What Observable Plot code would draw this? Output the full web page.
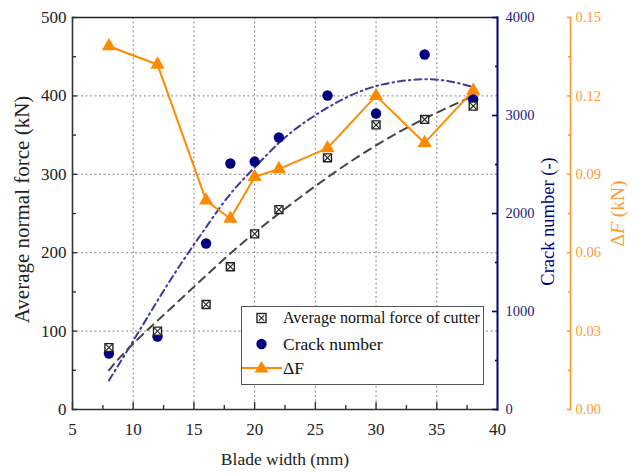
<!DOCTYPE html>
<html>
<head>
<meta charset="utf-8">
<script src="https://cdn.jsdelivr.net/npm/d3@7"></script>
<script src="https://cdn.jsdelivr.net/npm/@observablehq/plot@0.6"></script>
<style>
  html, body { margin: 0; padding: 0; background: #fff; }
  #wrap { position: relative; width: 635px; height: 475px; font-family: "Liberation Serif", "Times New Roman", serif; }
  #legend { position: absolute; left: 241px; top: 306px; width: 241px; height: 77px; border: 1.5px solid #555; background: #fff; }
  .row { position: absolute; left: 0; height: 24px; display: flex; align-items: center; }
  .row svg { width: 40px; height: 24px; }
  .row span { color: #111; white-space: nowrap; }
</style>
</head>
<body>
<div id="wrap"></div>
<script>
// ---- data ----
const blade = [8, 12, 16, 18, 20, 22, 26, 30, 34, 38];
const avgForce = [79, 100, 134, 182, 224, 255, 321, 363, 370, 387];
const crackNumber = [571, 745, 1694, 2510, 2530, 2776, 3204, 3020, 3622, 3163];
const deltaF = [0.139, 0.132, 0.080, 0.073, 0.089, 0.092, 0.100, 0.120, 0.102, 0.122];
const forceFitX = [8, 10, 14, 18, 22, 26, 30, 34, 38];
const forceFitY = [50, 84, 142, 199, 250, 296, 337, 371, 400];
const crackFitX = [8, 10, 12, 14, 16, 18, 20, 22, 24, 26, 28, 30, 32, 34, 36, 38];
const crackFitY = [296, 700, 1110, 1500, 1860, 2200, 2470, 2720, 2920, 3080, 3210, 3300, 3350, 3370, 3350, 3290];
const xTicks = [5, 10, 15, 20, 25, 30, 35, 40];
const xMinor = [7.5, 12.5, 17.5, 22.5, 27.5, 32.5, 37.5];
const forceTicks = [0, 100, 200, 300, 400, 500];
const forceMinor = [50, 150, 250, 350, 450];
const crackTicks = [0, 1000, 2000, 3000, 4000];
const crackMinor = [500, 1500, 2500, 3500];
const dfTicks = [0, 0.03, 0.06, 0.09, 0.12, 0.15];
const dfMinor = [0.015, 0.045, 0.075, 0.105, 0.135];
const legendLabels = ["Average normal force of cutter", "Crack number", "ΔF"];

// ---- helpers ----
const crackMax = 4000, dfMax = 0.15, forceMax = 500;
const crackToY = c => c * forceMax / crackMax;
const dfToY = f => f * forceMax / dfMax;
const navy = "#000080";
const fitBlue = "#3b3b9e";
const orange = "#ff8a00";
const orangeAxis = "#ff9a33";

const pts = blade.map((x, i) => ({x, force: avgForce[i], crack: crackNumber[i], df: deltaF[i]}));
const forceFit = forceFitX.map((x, i) => ({x, y: forceFitY[i]}));
const crackFit = crackFitX.map((x, i) => ({x, y: crackFitY[i]}));

const gridStyle = {stroke: "#888", strokeOpacity: 1, strokeWidth: 1, strokeDasharray: "2,2.5"};
const orangeDx = 73;

const chart = Plot.plot({
  width: 635,
  height: 475,
  marginLeft: 72,
  marginRight: 138,
  marginTop: 17,
  marginBottom: 66,
  x: {domain: [5, 40]},
  y: {domain: [0, 500]},
  style: {fontFamily: "'Liberation Serif', 'Times New Roman', serif", background: "#fff", color: "#222", overflow: "visible"},
  marks: [
    Plot.gridX(xTicks.slice(1, -1), gridStyle),
    Plot.gridY(forceTicks.slice(1, -1), gridStyle),
    // fits
    Plot.line(forceFit, {x: "x", y: "y", stroke: "#444", strokeWidth: 2, strokeDasharray: "8,6", curve: "natural"}),
    Plot.line(crackFit, {x: "x", y: d => crackToY(d.y), stroke: fitBlue, strokeWidth: 2, strokeDasharray: "7,4,1.5,4", curve: "natural"}),
    // delta F
    Plot.line(pts, {x: "x", y: d => dfToY(d.df), stroke: orange, strokeWidth: 2}),
    Plot.dot(pts, {x: "x", y: d => dfToY(d.df), symbol: "triangle", fill: orange, r: 5.3}),
    // crack number
    Plot.dot(pts, {x: "x", y: d => crackToY(d.crack), fill: navy, r: 5.2}),
    // average force
    Plot.dot(pts, {x: "x", y: "force", symbol: "square", fill: "#fff", stroke: "#222", strokeWidth: 1.4, r: 4.5}),
    Plot.dot(pts, {x: "x", y: "force", symbol: "times", stroke: "#222", strokeWidth: 1.1, r: 3.2}),
    // frame lines
    Plot.frame({anchor: "left", stroke: "#333", strokeWidth: 1.6}),
    Plot.frame({anchor: "bottom", stroke: "#333", strokeWidth: 1.6}),
    Plot.frame({anchor: "top", stroke: "#222", strokeWidth: 1.4}),
    Plot.frame({anchor: "right", stroke: navy, strokeWidth: 2}),
    Plot.frame({anchor: "right", dx: orangeDx, stroke: orangeAxis, strokeWidth: 1.6}),
    // x axis
    Plot.axisX(xTicks, {tickSize: -7, fill: "none", stroke: "#333", strokeWidth: 1.4, label: null}),
    Plot.axisX(xMinor, {tickSize: -4, fill: "none", stroke: "#333", strokeWidth: 1.4, label: null}),
    Plot.axisX(xTicks, {tickSize: 0, tickPadding: 13, fontSize: 17, fill: "#222", text: d => String(d), label: null}),
    // left y axis
    Plot.axisY(forceTicks, {tickSize: -5, fill: "none", stroke: "#333", strokeWidth: 1.4, label: null}),
    Plot.axisY(forceMinor, {tickSize: -4, fill: "none", stroke: "#333", strokeWidth: 1.4, label: null}),
    Plot.axisY(forceTicks, {tickSize: 0, tickPadding: 6, fontSize: 17, fill: "#222", text: d => String(d), label: null}),
    // crack axis (right)
    Plot.axisY(crackTicks, {anchor: "right", y: crackToY, tickSize: -6, fill: "none", stroke: navy, strokeWidth: 1.6, label: null}),
    Plot.axisY(crackMinor, {anchor: "right", y: crackToY, tickSize: -3, fill: "none", stroke: navy, strokeWidth: 1.6, label: null}),
    Plot.axisY(crackTicks, {anchor: "right", y: crackToY, tickSize: 0, tickPadding: 8, fontSize: 14.5, fill: "#1a1a80", text: d => String(d), label: null}),
    // delta F axis (far right)
    Plot.axisY(dfTicks, {anchor: "right", y: dfToY, dx: orangeDx, tickSize: -4, fill: "none", stroke: orangeAxis, strokeWidth: 1.6, label: null}),
    Plot.axisY(dfMinor, {anchor: "right", y: dfToY, dx: orangeDx, tickSize: -3, fill: "none", stroke: orangeAxis, strokeWidth: 1.6, label: null}),
    Plot.axisY(dfTicks, {anchor: "right", y: dfToY, dx: orangeDx, tickSize: 0, tickPadding: 5, fontSize: 14.5, fill: orangeAxis, text: d => d.toFixed(2), label: null}),
    // axis titles
    Plot.text(["Average normal force (kN)"], {text: d => d, frameAnchor: "left", textAnchor: "middle", dx: -50, dy: -4, rotate: -90, fontSize: 21, fill: "#222"}),
    Plot.text(["Crack number (-)"], {text: d => d, frameAnchor: "right", textAnchor: "middle", dx: 51, dy: 8, rotate: -90, fontSize: 18.5, fill: navy}),
    Plot.text(["ΔF (kN)"], {text: d => d, frameAnchor: "right", textAnchor: "middle", dx: 120, dy: 0, rotate: -90, fontSize: 19.5, fill: orangeAxis, className: "df-title"}),
    Plot.text(["Blade width (mm)"], {text: d => d, frameAnchor: "bottom", textAnchor: "middle", dy: 55, fontSize: 17.5, fill: "#222"})
  ]
});

// italic F in the ΔF title
d3.select(chart).selectAll("g.df-title text").each(function () {
  const t = d3.select(this);
  t.text(null);
  t.append("tspan").text("Δ");
  t.append("tspan").attr("font-style", "italic").text("F");
  t.append("tspan").text(" (kN)");
});

const wrap = document.getElementById("wrap");
wrap.appendChild(chart);

// legend
const legend = document.createElement("div");
legend.id = "legend";
const rows = [
  {top: 5, size: 16, svg: '<rect x="15" y="7.5" width="9" height="9" fill="#fff" stroke="#222" stroke-width="1.4"/><path d="M16.8,9.3 L22.2,14.7 M22.2,9.3 L16.8,14.7" stroke="#222" stroke-width="1.1"/>'},
  {top: 31, size: 17.5, svg: '<circle cx="19.5" cy="12" r="5.2" fill="' + navy + '"/>'},
  {top: 55, size: 17.5, svg: '<line x1="0" y1="12" x2="40" y2="12" stroke="' + orange + '" stroke-width="2"/><path d="M19.5,5 L26.5,16.5 L12.5,16.5 Z" fill="' + orange + '"/>'}
];
rows.forEach((r, i) => {
  const row = document.createElement("div");
  row.className = "row";
  row.style.top = (r.top - 12 + 6) + "px";
  row.innerHTML = '<svg viewBox="0 0 40 24">' + r.svg + '</svg><span style="font-size:' + r.size + 'px;margin-left:1px">' + legendLabels[i] + '</span>';
  legend.appendChild(row);
});
wrap.appendChild(legend);
</script>
</body>
</html>
